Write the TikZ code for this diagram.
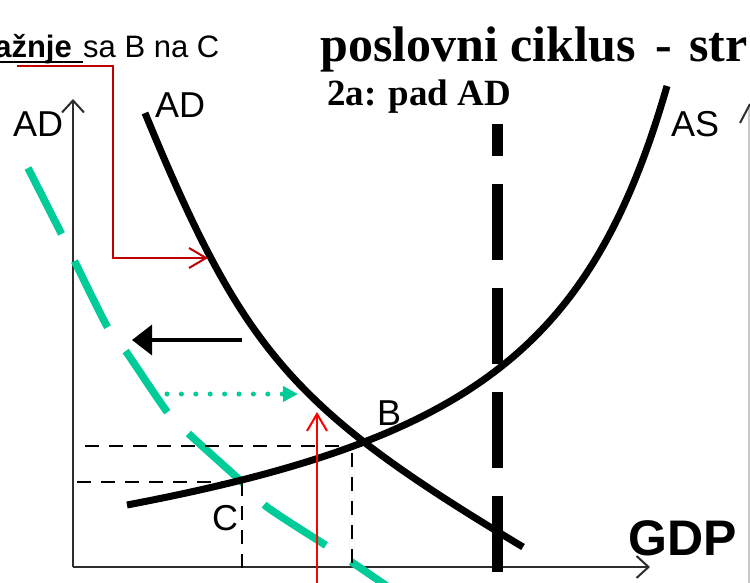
\documentclass[tikz,border=0pt]{standalone}
\usepackage{fontspec}
\setmainfont{Liberation Sans}
\newfontfamily\serifb{Liberation Serif}
\usetikzlibrary{arrows.meta}
\definecolor{adgreen}{RGB}{0,204,153}
\definecolor{dred}{RGB}{192,0,0}
\definecolor{bred}{RGB}{255,0,0}
\definecolor{axgray}{RGB}{45,45,45}
\definecolor{edgegray}{RGB}{200,200,200}
\begin{document}
\begin{tikzpicture}[x=1pt,y=-1pt,
  lbl/.style={inner sep=0pt, anchor=base west, font=\fontsize{36}{36}\selectfont},
  curveline/.style={line width=7pt, black},
  axisline/.style={line width=2pt, axgray, -{Straight Barb[length=12pt,width=22pt,line width=2pt]}},
  guide/.style={line width=2.5pt, black, dash pattern=on 14pt off 10pt},
  redarrow/.style={line width=2pt, -{Straight Barb[length=17pt,width=20pt,line width=2pt]}},
]
\useasboundingbox (0,0) rectangle (750,583);
\clip (0,0) rectangle (750,583);
\fill[white] (0,0) rectangle (750,583);

% coordinates
\coordinate (O) at (73,567);
\coordinate (ytop) at (73,99);
\coordinate (xend) at (650,567);
\coordinate (Cpt) at (242,482);

% axes
\draw[axisline] (O) -- (ytop);
\draw[axisline] (O) -- (xend);

% partial axis at right edge
\draw[line width=2pt, edgegray] (749,106) -- (749,583);
\draw[line width=2pt, axgray] (740,123) -- (750,104);

% green dashed shifted AD
\draw[adgreen, line width=7.5pt, dash pattern=on 74pt off 30pt]
  plot[smooth, tension=0.5] coordinates {(28,168) (62,235) (75,262) (108,328) (127,353) (168,413) (190,435) (243,483) (267,507) (330,548) (353,563) (400,595)};

% guide dashed lines
\draw[guide] (85,446) -- (354,446);
\draw[guide] (352,453) -- (352,567);
\draw[guide] (77,482) -- (Cpt);
\draw[guide] (Cpt) -- (242,574);

% AD curve
\draw[curveline] (145,113) .. controls (243.6,352.5) and (292.7,408.9) .. (523,547);

% AS curve
\draw[curveline] (127,505) .. controls (473,439.2) and (591.7,347.1) .. (667,86);

% vertical potential GDP line
\draw[black, line width=11pt, dash pattern=on 76pt off 28pt] (497,572) -- (497,124);

% black shift arrow
\coordinate (bs) at (242,340);
\coordinate (be) at (132,340);
\draw[black, line width=3.5pt, -{Triangle[length=20pt,width=30pt]}] (bs) -- (be);

% green dotted arrow
\coordinate (gs) at (167,394);
\coordinate (ge) at (298,394);
\draw[adgreen, line width=5pt, line cap=round, dash pattern=on 0pt off 14.4pt, -{Triangle[length=15pt,width=15pt,line cap=butt]}] (gs) -- (ge);

% texts
\node[inner sep=0pt, anchor=base east, font=\fontsize{31}{31}\selectfont\bfseries] (t1) at (72,58) {ažnje};
\node[inner sep=0pt, anchor=base west, font=\fontsize{31}{31}\selectfont] (t2) at (83,58) {sa B na C};
\draw[line width=2.5pt, black] (-5,62) -- (83,62);

\node[inner sep=0pt, anchor=base west, font=\fontsize{50}{50}\selectfont\serifb\bfseries] (title) at (320,62) {poslovni ciklus\hspace*{20pt}-\hspace*{17pt}str};
\node[inner sep=0pt, anchor=base west, font=\fontsize{37}{37}\selectfont\serifb\bfseries] (sub) at (327,106) {2a: pad AD};

\node[lbl] (adl) at (13,137) {AD};
\node[lbl] (adm) at (155,118) {AD};
\node[lbl] (as) at (671,137) {AS};
\node[lbl] (b) at (377,425) {B};
\node[lbl] (c) at (212,530) {C};
\node[inner sep=0pt, anchor=base west, font=\fontsize{50}{50}\selectfont\bfseries] (gdp) at (628,555) {GDP};

% red connectors
\coordinate (r0) at (17,66);
\coordinate (r1) at (113,66);
\coordinate (r2) at (113,258);
\coordinate (radt) at (208,258);
\draw[dred, redarrow] (r0) -- (r1) -- (r2) -- (radt);
\coordinate (rb) at (317,590);
\coordinate (rt) at (317,412);
\draw[bred, redarrow] (rb) -- (rt);
\end{tikzpicture}
\end{document}
